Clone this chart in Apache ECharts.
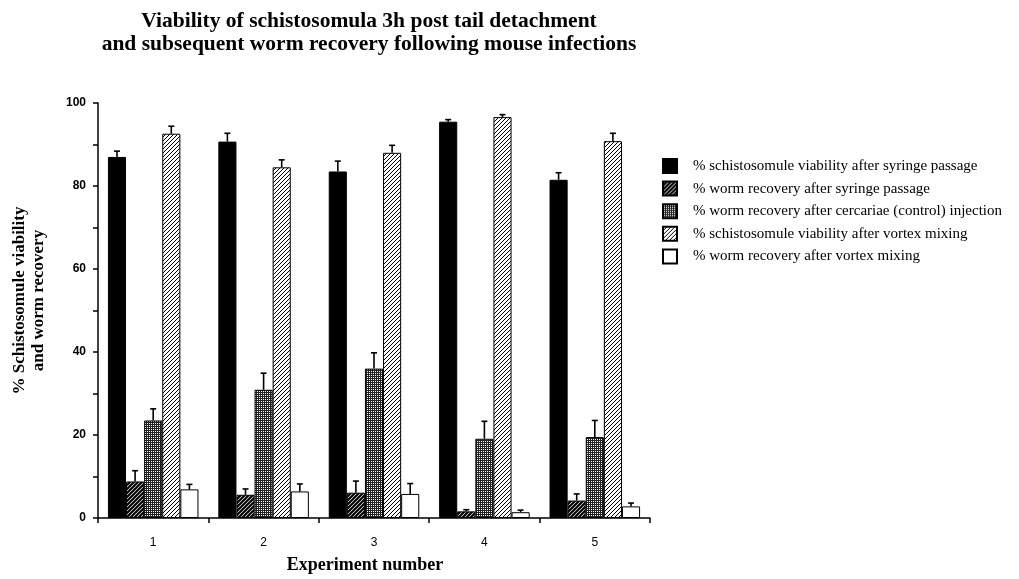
<!DOCTYPE html>
<html>
<head>
<meta charset="utf-8">
<script src="https://cdn.jsdelivr.net/npm/echarts@6/dist/echarts.min.js"></script>
<style>
html,body{margin:0;padding:0;background:#fff;}
#chart{width:1019px;height:579px;}
</style>
</head>
<body>
<div id="chart"></div>
<script>
// ---- data ----
const categories = ['1', '2', '3', '4', '5'];
const seriesNames = [
  '% schistosomule viability after syringe passage',
  '% worm recovery after syringe passage',
  '% worm recovery after cercariae (control) injection',
  '% schistosomule viability after vortex mixing',
  '% worm recovery after vortex mixing'
];
const viabilitySyringe = [87.0, 90.7, 83.5, 95.5, 81.5];
const recoverySyringe = [8.8, 5.6, 6.1, 1.6, 4.2];
const recoveryCercariae = [23.5, 30.9, 36.0, 19.1, 19.5];
const viabilityVortex = [92.6, 84.5, 88.0, 96.6, 90.8];
const recoveryVortex = [6.9, 6.4, 5.8, 1.4, 2.8];

const errViabilitySyringe = [1.4, 2.0, 2.5, 0.5, 1.7];
const errRecoverySyringe = [2.6, 1.4, 2.8, 0.4, 1.6];
const errRecoveryCercariae = [2.8, 4.0, 3.8, 4.2, 4.0];
const errViabilityVortex = [1.8, 1.8, 1.8, 0.6, 1.9];
const errRecoveryVortex = [1.2, 1.8, 2.5, 0.5, 0.8];

const yTicks = [0, 20, 40, 60, 80, 100];

const values = [viabilitySyringe, recoverySyringe, recoveryCercariae, viabilityVortex, recoveryVortex];
const errors = [errViabilitySyringe, errRecoverySyringe, errRecoveryCercariae, errViabilityVortex, errRecoveryVortex];

// ---- patterns ----
function diagPattern(lw) {
  const c = document.createElement('canvas');
  c.width = 4; c.height = 4;
  const g = c.getContext('2d');
  g.fillStyle = '#fff'; g.fillRect(0, 0, 4, 4);
  g.strokeStyle = '#000'; g.lineWidth = lw;
  g.beginPath();
  g.moveTo(-1, 5); g.lineTo(5, -1);
  g.moveTo(-3, 3); g.lineTo(3, -3);
  g.moveTo(1, 7); g.lineTo(7, 1);
  g.stroke();
  return c;
}
function stipplePattern() {
  const c = document.createElement('canvas');
  c.width = 2; c.height = 2;
  const g = c.getContext('2d');
  g.fillStyle = '#222'; g.fillRect(0, 0, 2, 2);
  g.fillStyle = '#fff'; g.fillRect(1, 1, 1, 1);
  return c;
}
const fills = [
  '#000',
  { image: diagPattern(2.2), repeat: 'repeat' },
  { image: stipplePattern(), repeat: 'repeat' },
  { image: diagPattern(1.0), repeat: 'repeat' },
  '#fff'
];

const catGap = 0.18;
const nSeries = seriesNames.length;

const barSeries = seriesNames.map((name, i) => ({
  name: name,
  type: 'bar',
  data: values[i],
  barGap: '0%',
  barCategoryGap: (catGap * 100) + '%',
  itemStyle: { color: fills[i], borderColor: '#000', borderWidth: 1 },
  emphasis: { disabled: true },
  z: 2
}));

const errData = [];
for (let s = 0; s < nSeries; s++) {
  for (let c = 0; c < categories.length; c++) {
    errData.push([c, s, values[s][c], values[s][c] + errors[s][c]]);
  }
}

const errSeries = {
  type: 'custom',
  data: errData,
  encode: { x: 0, y: 3 },
  z: 3,
  silent: true,
  renderItem: function (params, api) {
    const cat = api.value(0), s = api.value(1), v = api.value(2), top = api.value(3);
    const band = api.size([1, 0])[0];
    const w = band * (1 - catGap) / nSeries;
    const center = api.coord([cat, 0])[0];
    const x = center + (s - (nSeries - 1) / 2) * w;
    const y0 = api.coord([cat, v])[1];
    const y1 = api.coord([cat, top])[1];
    const style = { stroke: '#000', lineWidth: 1.6 };
    return {
      type: 'group',
      children: [
        { type: 'line', shape: { x1: x, y1: y0, x2: x, y2: y1 }, style: style },
        { type: 'line', shape: { x1: x - 3, y1: y1, x2: x + 3, y2: y1 }, style: style }
      ]
    };
  }
};

const chart = echarts.init(document.getElementById('chart'), null, { renderer: 'canvas' });
chart.setOption({
  backgroundColor: '#fff',
  animation: false,
  title: {
    text: 'Viability of schistosomula 3h post tail detachment\nand subsequent worm recovery following mouse infections',
    left: 364,
    top: 5,
    textAlign: 'center',
    textStyle: { fontFamily: 'Liberation Serif', fontWeight: 'bold', fontSize: 21.5, lineHeight: 23, color: '#000' }
  },
  legend: {
    orient: 'vertical',
    left: 657,
    top: 153,
    itemWidth: 14,
    itemHeight: 14,
    itemGap: 6.6,
    icon: 'rect',
    selectedMode: false,
    data: seriesNames,
    textStyle: { fontFamily: 'Liberation Serif', fontSize: 15, lineHeight: 15, color: '#000', padding: [0, 0, 0, 11] }
  },
  grid: { left: 98, right: 369, top: 103, bottom: 58, containLabel: false },
  xAxis: {
    type: 'category',
    data: categories,
    boundaryGap: true,
    name: 'Experiment number',
    nameLocation: 'middle',
    nameGap: 38,
    nameTextStyle: { fontFamily: 'Liberation Serif', fontWeight: 'bold', fontSize: 18, color: '#000', padding: [0, 18, 0, 0] },
    axisLine: { lineStyle: { color: '#000', width: 1.5 } },
    axisTick: { show: true, length: 5, lineStyle: { color: '#000', width: 1.5 } },
    axisLabel: { margin: 19, fontFamily: 'Liberation Sans', fontSize: 12, color: '#000' },
    splitLine: { show: false }
  },
  yAxis: {
    type: 'value',
    min: yTicks[0],
    max: yTicks[yTicks.length - 1],
    interval: yTicks[1] - yTicks[0],
    name: '% Schistosomule viability\nand worm recovery',
    nameLocation: 'middle',
    nameGap: 50,
    nameTextStyle: { fontFamily: 'Liberation Serif', fontWeight: 'bold', fontSize: 17, lineHeight: 19, color: '#000', padding: [0, 0, 0, 20] },
    axisLine: { show: true, lineStyle: { color: '#000', width: 1.5 } },
    axisTick: { show: true, length: 5, lineStyle: { color: '#000', width: 1.5 } },
    minorTick: { show: true, splitNumber: 2, length: 5, lineStyle: { color: '#000', width: 1.5 } },
    axisLabel: { margin: 12, fontFamily: 'Liberation Sans', fontWeight: 'bold', fontSize: 12, color: '#000' },
    splitLine: { show: false }
  },
  series: barSeries.concat([errSeries])
});
</script>
</body>
</html>
